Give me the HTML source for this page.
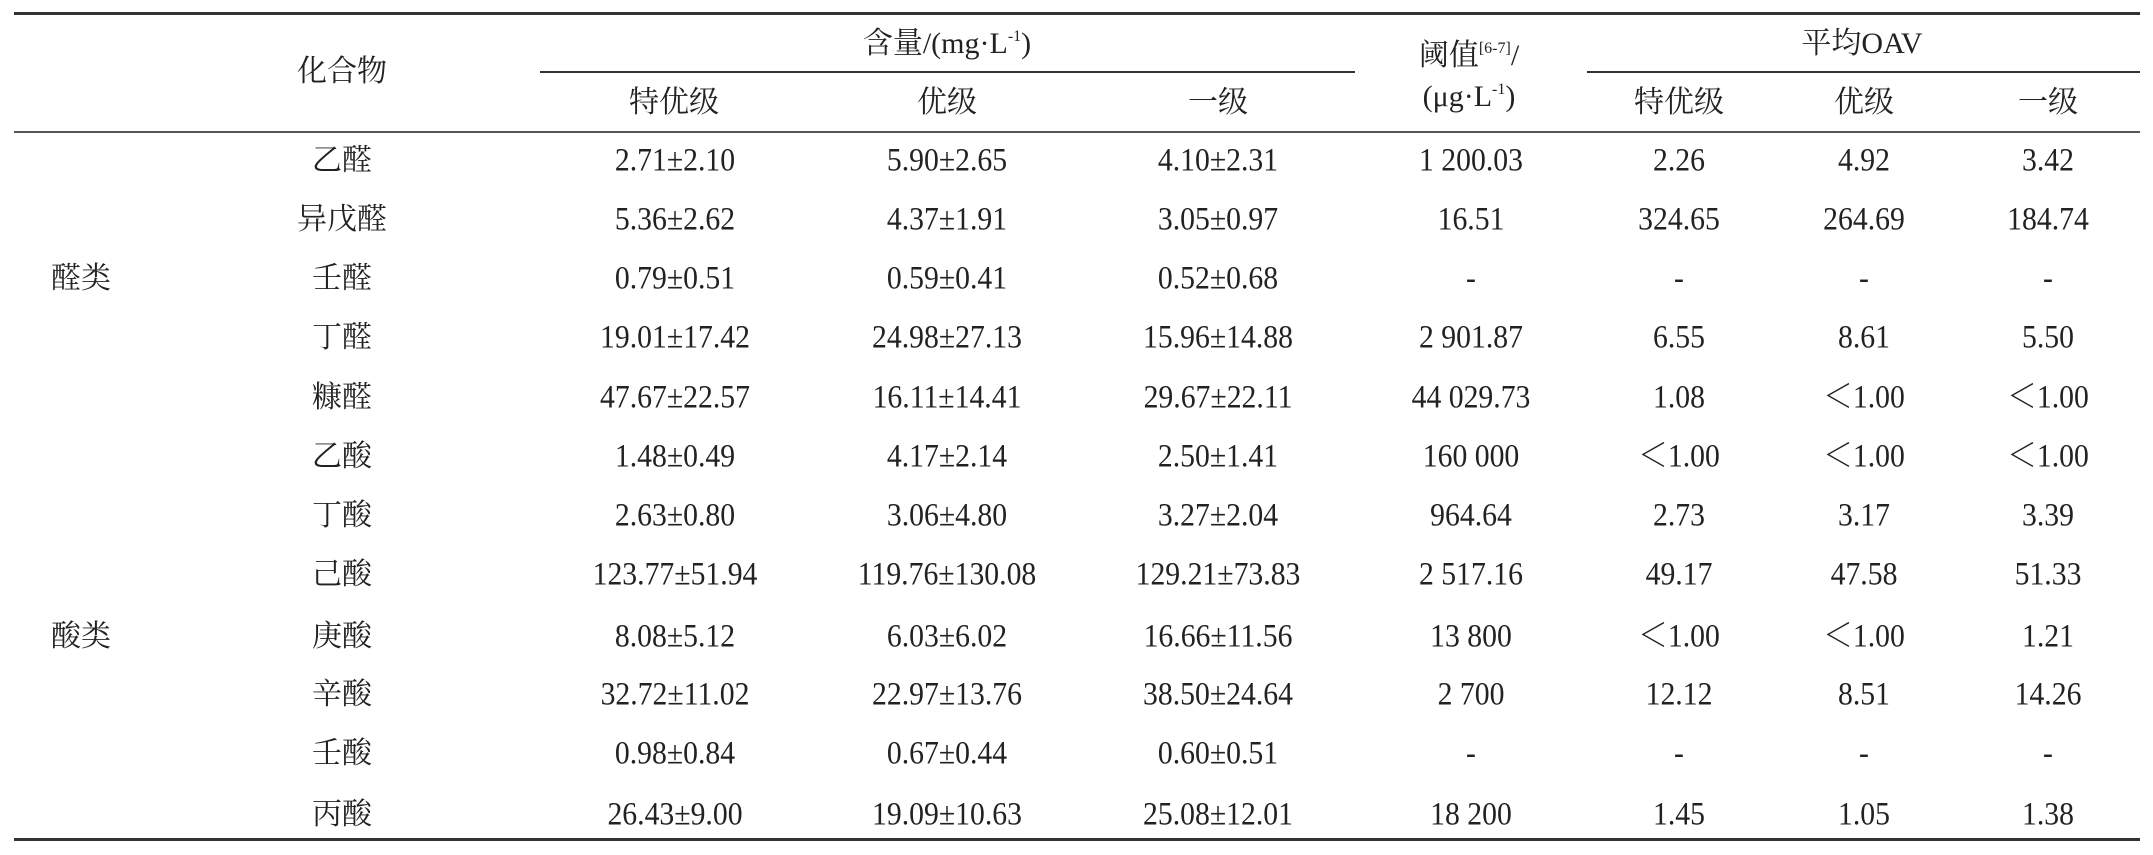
<!DOCTYPE html>
<html><head><meta charset="utf-8"><style>
html,body{margin:0;padding:0;background:#fff;}
body{width:2153px;height:855px;position:relative;overflow:hidden;font-family:"Liberation Serif","Noto Serif CJK SC",serif;color:#222;font-size:30px;}
.t{position:absolute;transform:translate(-50%,-50%);white-space:nowrap;line-height:1;}
.n{font-size:33px;transform:translate(-50%,-50%) scaleX(0.9);}
.r{position:absolute;background:#333;}
sup{font-size:16px;vertical-align:12px;}
</style></head><body>
<div class="r" style="left:14px;top:12px;width:2126px;height:3px"></div>
<div class="r" style="left:540px;top:71px;width:815px;height:2px"></div>
<div class="r" style="left:1587px;top:71px;width:553px;height:2px"></div>
<div class="r" style="left:14px;top:131px;width:2126px;height:2px;background:#555"></div>
<div class="r" style="left:14px;top:838px;width:2126px;height:3px"></div>

<div class="t" style="left:342px;top:72px">化合物</div>
<div class="t" style="left:947px;top:44px">含量/(mg·L<sup>-1</sup>)</div>
<div class="t" style="left:1469px;top:56px">阈值<sup>[6-7]</sup>/</div>
<div class="t" style="left:1469px;top:97px">(μg·L<sup>-1</sup>)</div>
<div class="t" style="left:1862px;top:44px">平均OAV</div>
<div class="t" style="left:674px;top:103px">特优级</div>
<div class="t" style="left:947px;top:103px">优级</div>
<div class="t" style="left:1218px;top:103px">一级</div>
<div class="t" style="left:1679px;top:103px">特优级</div>
<div class="t" style="left:1864px;top:103px">优级</div>
<div class="t" style="left:2048px;top:103px">一级</div>

<div class="t" style="left:81px;top:279px">醛类</div>
<div class="t" style="left:81px;top:637px">酸类</div>

<div id="rows"></div>
<script>
var d=[["乙醛","2.71±2.10","5.90±2.65","4.10±2.31","1 200.03","2.26","4.92","3.42"],
["异戊醛","5.36±2.62","4.37±1.91","3.05±0.97","16.51","324.65","264.69","184.74"],
["壬醛","0.79±0.51","0.59±0.41","0.52±0.68","-","-","-","-"],
["丁醛","19.01±17.42","24.98±27.13","15.96±14.88","2 901.87","6.55","8.61","5.50"],
["糠醛","47.67±22.57","16.11±14.41","29.67±22.11","44 029.73","1.08","＜1.00","＜1.00"],
["乙酸","1.48±0.49","4.17±2.14","2.50±1.41","160 000","＜1.00","＜1.00","＜1.00"],
["丁酸","2.63±0.80","3.06±4.80","3.27±2.04","964.64","2.73","3.17","3.39"],
["己酸","123.77±51.94","119.76±130.08","129.21±73.83","2 517.16","49.17","47.58","51.33"],
["庚酸","8.08±5.12","6.03±6.02","16.66±11.56","13 800","＜1.00","＜1.00","1.21"],
["辛酸","32.72±11.02","22.97±13.76","38.50±24.64","2 700","12.12","8.51","14.26"],
["壬酸","0.98±0.84","0.67±0.44","0.60±0.51","-","-","-","-"],
["丙酸","26.43±9.00","19.09±10.63","25.08±12.01","18 200","1.45","1.05","1.38"]];
var ys=[161,220,279,338,398,457,516,575,637,695,754,815];
var xs=[342,675,947,1218,1471,1679,1864,2048];
var h="";
d.forEach(function(r,i){r.forEach(function(c,j){h+='<div class="t'+(j>0?' n':'')+'" style="left:'+xs[j]+'px;top:'+ys[i]+'px">'+c+'</div>';});});
document.getElementById("rows").innerHTML=h;
</script>
</body></html>
